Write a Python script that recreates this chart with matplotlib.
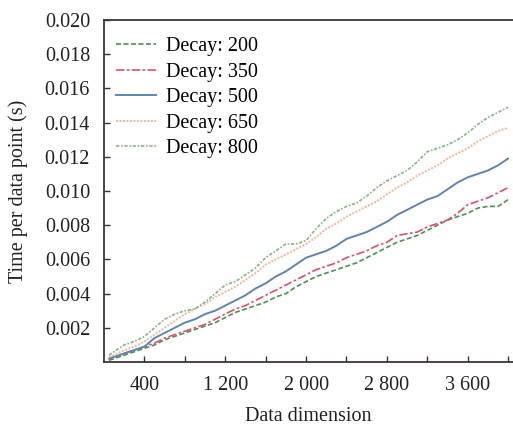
import numpy as np
import matplotlib
matplotlib.use('Agg')
import matplotlib.pyplot as plt
from matplotlib.ticker import FixedLocator

plt.rcParams['font.family'] = ['Liberation Serif', 'DejaVu Serif']

# x positions (data dimension)
dims = [50, 100, 200, 300, 400, 500, 600, 700, 800, 900, 1000,
        1100, 1200, 1300, 1400, 1500, 1600, 1700, 1800, 1900, 2000,
        2100, 2200, 2300, 2400, 2500, 2600, 2700, 2800, 2900, 3000,
        3100, 3200, 3300, 3400, 3500, 3600, 3700, 3800, 3900, 4000]

# time per data point (s)
decay_200 = [0.0001, 0.0002, 0.0004, 0.0006, 0.0008, 0.0010, 0.0013, 0.0015, 0.0017, 0.0019, 0.0021,
             0.0023, 0.0026, 0.0029, 0.0031, 0.0033, 0.0035, 0.0038, 0.0040, 0.0044, 0.0047,
             0.0050, 0.0052, 0.0054, 0.0056, 0.0058, 0.0061, 0.0064, 0.0067, 0.0070, 0.0072,
             0.0074, 0.0077, 0.0080, 0.0083, 0.0085, 0.0087, 0.0090, 0.0091, 0.0091, 0.0095]
decay_350 = [0.0002, 0.0003, 0.0005, 0.0007, 0.0009, 0.0011, 0.0014, 0.0016, 0.0018, 0.0020, 0.0022,
             0.0025, 0.0028, 0.0031, 0.0033, 0.0036, 0.0039, 0.0042, 0.0045, 0.0048, 0.0051,
             0.0054, 0.0056, 0.0058, 0.0061, 0.0063, 0.0065, 0.0068, 0.0070, 0.0074, 0.0075,
             0.0076, 0.0079, 0.0081, 0.0083, 0.0087, 0.0092, 0.0094, 0.0096, 0.0099, 0.0102]
decay_500 = [0.0002, 0.0003, 0.0005, 0.0007, 0.0009, 0.0014, 0.0017, 0.0020, 0.0023, 0.0025, 0.0028,
             0.0030, 0.0033, 0.0036, 0.0039, 0.0043, 0.0046, 0.0050, 0.0053, 0.0057, 0.0061,
             0.0063, 0.0065, 0.0068, 0.0072, 0.0074, 0.0076, 0.0079, 0.0082, 0.0086, 0.0089,
             0.0092, 0.0095, 0.0097, 0.0101, 0.0105, 0.0108, 0.0110, 0.0112, 0.0115, 0.0119]
decay_650 = [0.0003, 0.0004, 0.0007, 0.0009, 0.0012, 0.0016, 0.0020, 0.0024, 0.0028, 0.0031, 0.0034,
             0.0038, 0.0041, 0.0044, 0.0048, 0.0052, 0.0057, 0.0060, 0.0063, 0.0066, 0.0069,
             0.0073, 0.0078, 0.0081, 0.0085, 0.0088, 0.0091, 0.0094, 0.0098, 0.0102, 0.0105,
             0.0109, 0.0112, 0.0115, 0.0119, 0.0122, 0.0125, 0.0129, 0.0132, 0.0135, 0.0137]
decay_800 = [0.0004, 0.0006, 0.0010, 0.0012, 0.0015, 0.0020, 0.0025, 0.0028, 0.0030, 0.0031, 0.0035,
             0.0040, 0.0045, 0.0047, 0.0051, 0.0055, 0.0061, 0.0065, 0.0069, 0.0069, 0.0071,
             0.0078, 0.0084, 0.0088, 0.0091, 0.0093, 0.0097, 0.0102, 0.0106, 0.0109, 0.0112,
             0.0117, 0.0123, 0.0125, 0.0127, 0.0130, 0.0134, 0.0139, 0.0143, 0.0146, 0.0149]

labels = ['Decay: 200', 'Decay: 350', 'Decay: 500', 'Decay: 650', 'Decay: 800']
xtick_major = [400, 1200, 2000, 2800, 3600]
xtick_labels = ['400', '1 200', '2 000', '2 800', '3 600']
xtick_minor = [800, 1600, 2400, 3200, 4000]

fig = plt.figure(figsize=(5.13, 4.28), dpi=100)
ax = fig.add_axes([104/513, 66/428, 409/513, 342/428])

ax.plot(dims, decay_200, color='#4f8f55', ls=(0, (3, 1.5)), lw=1.2, label=labels[0])
ax.plot(dims, decay_350, color='#d9506a', ls=(0, (5, 1.5, 1.5, 1.5)), lw=1.2, label=labels[1])
ax.plot(dims, decay_500, color='#5f84ad', ls='-', lw=1.4, label=labels[2])
ax.plot(dims, decay_650, color='#f0b59a', ls=(0, (1, 0.8)), lw=1.4, label=labels[3])
ax.plot(dims, decay_800, color='#86b486', ls=(0, (2, 1, 1, 1)), lw=1.2, label=labels[4])

ax.set_xlim(0, 4048)
ax.set_ylim(0, 0.020)
ax.xaxis.set_major_locator(FixedLocator(xtick_major))
ax.set_xticklabels(xtick_labels)
ax.xaxis.set_minor_locator(FixedLocator(xtick_minor))
ax.set_yticks(np.arange(0.002, 0.0201, 0.002))
ax.set_yticklabels(['%.3f' % v for v in np.arange(0.002, 0.0201, 0.002)])

ax.tick_params(which='both', direction='in', length=4, width=1, colors='#3a3030',
               labelsize=14.5, labelcolor='#222222')
ax.tick_params(axis='x', which='both', pad=10)
ax.tick_params(axis='y', pad=10)

for s in ['left', 'bottom', 'top']:
    ax.spines[s].set_color('#403535')
    ax.spines[s].set_linewidth(1.3)
ax.spines['right'].set_visible(False)

ax.set_xlabel('Data dimension', fontsize=14.5, labelpad=9, color='#222222')
ax.set_ylabel('Time per data point (s)', fontsize=14.5, labelpad=12, color='#222222')

ax.legend(loc='upper left', frameon=False, fontsize=14.5, handlelength=2.0,
          handletextpad=0.5, labelspacing=0.32, borderaxespad=0.2,
          bbox_to_anchor=(0.0, 0.985))

fig.savefig('out.png', dpi=100)
